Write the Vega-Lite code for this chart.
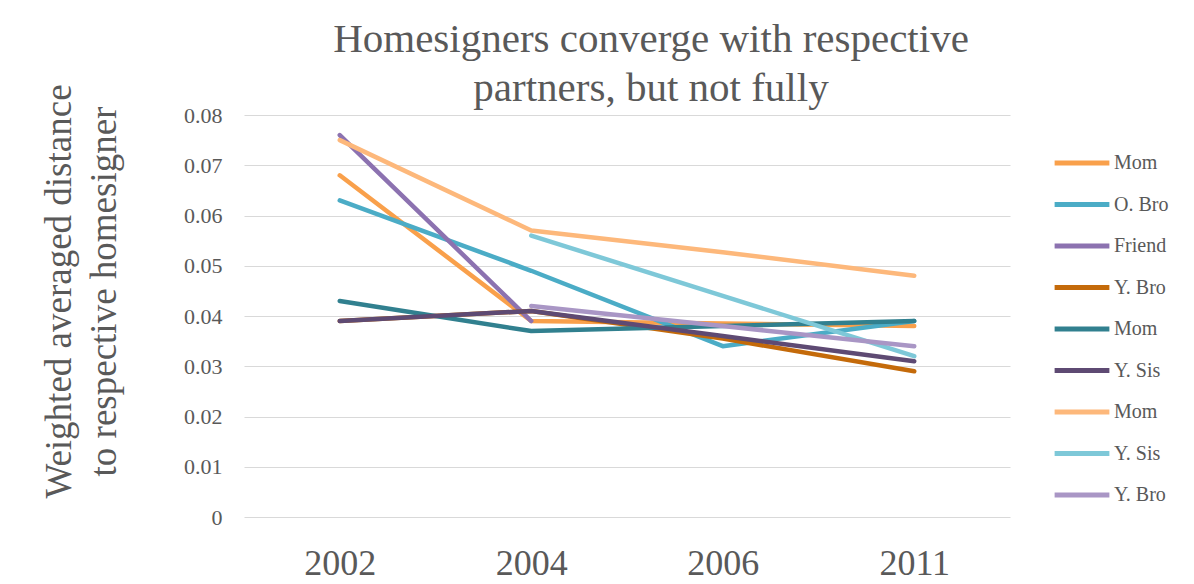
{
  "$schema": "https://vega.github.io/schema/vega-lite/v6.json",
  "width": 766,
  "height": 402,
  "autosize": {"type": "none"},
  "padding": {"left": 244, "top": 115, "right": 184, "bottom": 67},
  "background": "white",
  "title": {
    "text": ["Homesigners converge with respective", "partners, but not fully"],
    "font": "Liberation Serif",
    "fontSize": 41,
    "fontWeight": "normal",
    "color": "#595959",
    "lineHeight": 49,
    "anchor": "middle",
    "dx": 24,
    "dy": 20,
    "offset": -6
  },
  "data": {
    "values": [
      {"s": "1 Mom", "year": "2002", "v": 0.068},
      {"s": "1 Mom", "year": "2004", "v": 0.039},
      {"s": "1 Mom", "year": "2006", "v": 0.0385},
      {"s": "1 Mom", "year": "2011", "v": 0.038},
      {"s": "2 O. Bro", "year": "2002", "v": 0.063},
      {"s": "2 O. Bro", "year": "2004", "v": 0.049},
      {"s": "2 O. Bro", "year": "2006", "v": 0.034},
      {"s": "2 O. Bro", "year": "2011", "v": 0.039},
      {"s": "3 Friend", "year": "2002", "v": 0.076},
      {"s": "3 Friend", "year": "2004", "v": 0.039},
      {"s": "4 Y. Bro", "year": "2002", "v": 0.039},
      {"s": "4 Y. Bro", "year": "2004", "v": 0.041},
      {"s": "4 Y. Bro", "year": "2006", "v": 0.0355},
      {"s": "4 Y. Bro", "year": "2011", "v": 0.029},
      {"s": "5 Mom", "year": "2002", "v": 0.043},
      {"s": "5 Mom", "year": "2004", "v": 0.037},
      {"s": "5 Mom", "year": "2006", "v": 0.038},
      {"s": "5 Mom", "year": "2011", "v": 0.039},
      {"s": "6 Y. Sis", "year": "2002", "v": 0.039},
      {"s": "6 Y. Sis", "year": "2004", "v": 0.041},
      {"s": "6 Y. Sis", "year": "2006", "v": 0.036},
      {"s": "6 Y. Sis", "year": "2011", "v": 0.031},
      {"s": "7 Mom", "year": "2002", "v": 0.075},
      {"s": "7 Mom", "year": "2004", "v": 0.057},
      {"s": "7 Mom", "year": "2006", "v": 0.0527},
      {"s": "7 Mom", "year": "2011", "v": 0.048},
      {"s": "8 Y. Sis", "year": "2004", "v": 0.056},
      {"s": "8 Y. Sis", "year": "2006", "v": 0.044},
      {"s": "8 Y. Sis", "year": "2011", "v": 0.032},
      {"s": "9 Y. Bro", "year": "2004", "v": 0.042},
      {"s": "9 Y. Bro", "year": "2006", "v": 0.038},
      {"s": "9 Y. Bro", "year": "2011", "v": 0.034}
    ]
  },
  "mark": {"type": "line", "strokeWidth": 4.5, "strokeCap": "round", "strokeJoin": "round"},
  "encoding": {
    "x": {
      "field": "year",
      "type": "ordinal",
      "scale": {"type": "point", "padding": 0.5},
      "axis": {
        "title": null,
        "labelAngle": 0,
        "labelFont": "Liberation Serif",
        "labelFontSize": 36,
        "labelColor": "#595959",
        "labelPadding": 29,
        "ticks": false,
        "domain": false,
        "grid": false
      }
    },
    "y": {
      "field": "v",
      "type": "quantitative",
      "scale": {"domain": [0, 0.08], "nice": false},
      "axis": {
        "title": ["Weighted averaged distance", "to respective homesigner"],
        "titleFont": "Liberation Serif",
        "titleFontSize": 37,
        "titleFontWeight": "normal",
        "titleColor": "#595959",
        "titleLineHeight": 45,
        "titlePadding": 60,
        "titleY": 176,
        "values": [0, 0.01, 0.02, 0.03, 0.04, 0.05, 0.06, 0.07, 0.08],
        "labelExpr": "datum.value === 0 ? '0' : format(datum.value, '.2f')",
        "labelFont": "Liberation Serif",
        "labelFontSize": 22,
        "labelColor": "#595959",
        "labelPadding": 22,
        "ticks": false,
        "domain": false,
        "gridColor": "#d9d9d9",
        "gridWidth": 1.2
      }
    },
    "color": {
      "field": "s",
      "type": "nominal",
      "scale": {
        "domain": ["1 Mom", "2 O. Bro", "3 Friend", "4 Y. Bro", "5 Mom", "6 Y. Sis", "7 Mom", "8 Y. Sis", "9 Y. Bro"],
        "range": ["#F9A04B", "#4BACC6", "#8C72B0", "#C46A0A", "#31808F", "#5E4A73", "#FDB87B", "#7EC8D8", "#A996C5"]
      },
      "legend": {
        "title": null,
        "orient": "none",
        "legendX": 808,
        "legendY": 38,
        "labelExpr": "slice(datum.label, 2)",
        "labelFont": "Liberation Serif",
        "labelFontSize": 20,
        "labelColor": "#595959",
        "symbolType": "stroke",
        "symbolSize": 3000,
        "symbolStrokeWidth": 5,
        "clipHeight": 20,
        "rowPadding": 21.5,
        "labelOffset": 2
      }
    }
  },
  "config": {"view": {"stroke": null}}
}
